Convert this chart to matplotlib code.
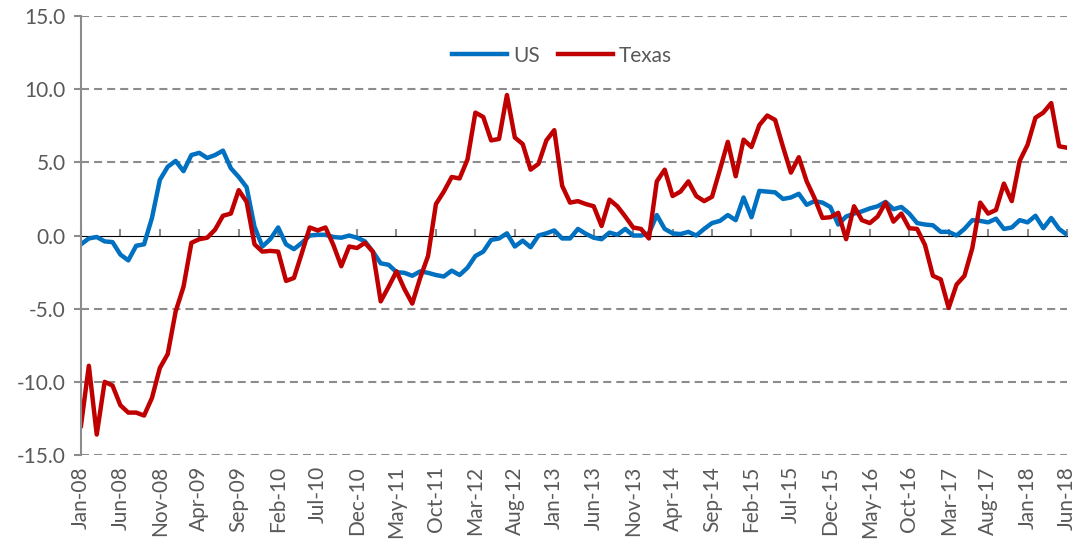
import numpy as np
import matplotlib.pyplot as plt

# Wartosci miesieczne Jan-08 .. Jun-18 (126 miesiecy)
us = [-0.6, -0.2, -0.1, -0.4, -0.45, -1.3, -1.7, -0.7, -0.6, 1.2,
      3.8, 4.7, 5.1, 4.4, 5.5, 5.65, 5.3, 5.5, 5.8, 4.6,
      4.0, 3.3, 0.6, -0.75, -0.25, 0.55, -0.6, -0.93, -0.5, 0.0,
      0.05, 0.05, -0.1, -0.15, 0.0, -0.15, -0.4, -1.1, -1.9, -2.0,
      -2.5, -2.55, -2.75, -2.45, -2.55, -2.7, -2.8, -2.4, -2.7, -2.2,
      -1.4, -1.1, -0.3, -0.2, 0.15, -0.75, -0.35, -0.8, 0.0, 0.15,
      0.35, -0.2, -0.2, 0.45, 0.12, -0.15, -0.25, 0.2, 0.05, 0.45,
      0.0, 0.0, 0.15, 1.4, 0.45, 0.15, 0.1, 0.25, 0.0, 0.45,
      0.85, 1.0, 1.4, 1.05, 2.6, 1.25, 3.05, 3.0, 2.95, 2.5,
      2.6, 2.85, 2.1, 2.35, 2.25, 1.95, 0.75, 1.3, 1.5, 1.65,
      1.85, 2.0, 2.3, 1.8, 1.95, 1.5, 0.85, 0.75, 0.7, 0.25,
      0.25, 0.0, 0.45, 1.05, 1.0, 0.9, 1.15, 0.45, 0.55, 1.05,
      0.9, 1.35, 0.5, 1.2, 0.45, 0.05]

texas = [-13.0, -8.9, -13.6, -10.0, -10.25, -11.6, -12.1, -12.1, -12.3, -11.1,
         -9.05, -8.1, -5.2, -3.5, -0.5, -0.25, -0.15, 0.4, 1.35, 1.5,
         3.1, 2.3, -0.6, -1.1, -1.05, -1.1, -3.1, -2.9, -1.2, 0.55,
         0.35, 0.55, -0.65, -2.1, -0.75, -0.85, -0.5, -1.1, -4.5, -3.5,
         -2.45, -3.65, -4.65, -2.9, -1.4, 2.15, 3.0, 4.0, 3.9, 5.2,
         8.4, 8.1, 6.5, 6.6, 9.6, 6.7, 6.25, 4.5, 4.9, 6.5,
         7.2, 3.4, 2.25, 2.35, 2.15, 2.0, 0.65, 2.45, 2.0, 1.3,
         0.55, 0.45, -0.2, 3.7, 4.5, 2.7, 3.0, 3.7, 2.7, 2.35,
         2.65, 4.5, 6.4, 4.05, 6.55, 6.05, 7.55, 8.2, 7.9, 6.05,
         4.3, 5.35, 3.7, 2.55, 1.2, 1.25, 1.55, -0.25, 2.0, 1.05,
         0.85, 1.3, 2.25, 0.95, 1.5, 0.5, 0.45, -0.65, -2.75, -3.0,
         -4.95, -3.35, -2.75, -0.85, 2.25, 1.5, 1.75, 3.55, 2.35, 5.1,
         6.2, 8.05, 8.4, 9.05, 6.1, 6.0]

ticklabels = ['Jan-08', 'Jun-08', 'Nov-08', 'Apr-09', 'Sep-09', 'Feb-10', 'Jul-10',
              'Dec-10', 'May-11', 'Oct-11', 'Mar-12', 'Aug-12', 'Jan-13', 'Jun-13',
              'Nov-13', 'Apr-14', 'Sep-14', 'Feb-15', 'Jul-15', 'Dec-15', 'May-16',
              'Oct-16', 'Mar-17', 'Aug-17', 'Jan-18', 'Jun-18']

plt.rcParams['font.family'] = ['Lato', 'DejaVu Sans']
plt.rcParams['lines.scale_dashes'] = False
szary = '#595959'
linia = '#8c8c8c'

fig = plt.figure(figsize=(10.78, 5.43), dpi=100)
ax = fig.add_axes([0.0751, 0.162, 0.9147, 0.8085])

x = np.arange(len(us))
ax.plot(x, us, color='#0070C0', lw=3.2, label='US', solid_joinstyle='round')
ax.plot(x, texas, color='#C00000', lw=3.2, label='Texas', solid_joinstyle='round')

ax.set_xlim(0, len(us) - 1)
ax.set_ylim(-15, 15)
ax.set_yticks(np.arange(-15, 16, 5))
ax.set_yticklabels(['%.1f' % v for v in np.arange(-15, 16, 5)])

# siatka przerywana (bez linii zero - tam jest os)
for v in [-15, -10, -5, 5, 10, 15]:
    ax.axhline(v, color=linia, lw=1.5, ls=(0, (5.8, 3.6)), zorder=0)

for s in ['top', 'right', 'bottom']:
    ax.spines[s].set_visible(False)
ax.spines['left'].set_color(linia)
ax.spines['left'].set_linewidth(1.5)

ticks = np.arange(0, len(us), 5)
ax.set_xticks(ticks)
ax.set_xticklabels(ticklabels, rotation=90)
ax.tick_params(axis='x', length=0, pad=8, labelsize=15, labelcolor=szary)
ax.tick_params(axis='y', length=5, width=1.5, color=linia, labelsize=15, labelcolor=szary, pad=6)

# os pozioma na wysokosci zera
os0 = ax.secondary_xaxis(0.5)
os0.set_xticks(ticks)
os0.set_xticklabels([])
os0.spines['bottom'].set_color(linia)
os0.spines['bottom'].set_linewidth(1.5)
os0.tick_params(length=5, width=1.5, color=linia)

ax.legend(loc='upper center', bbox_to_anchor=(0.488, 0.975), ncol=2, frameon=False,
          fontsize=15, labelcolor=szary, handlelength=2.6, columnspacing=0.9, handletextpad=0.3)

plt.savefig('out.png', dpi=100)
